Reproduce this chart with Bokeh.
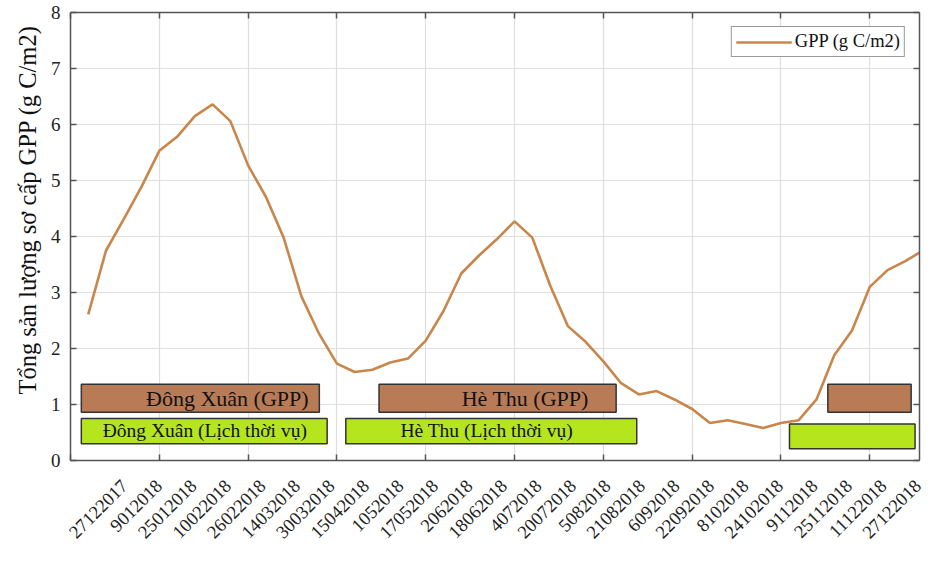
import math
from bokeh.plotting import figure
from bokeh.models import (Range1d, LinearAxis, FixedTicker, Legend, LegendItem,
                          ColumnDataSource, Grid, Title)
from bokeh.core.properties import value
from bokeh.embed import file_html
from bokeh.resources import INLINE

# ---------------- data ----------------
period = list(range(1, 49))
gpp = [2.61, 3.75, 4.31, 4.89, 5.53, 5.78, 6.15, 6.36, 6.06, 5.27,
       4.71, 3.98, 2.93, 2.26, 1.73, 1.58, 1.62, 1.75, 1.82, 2.14,
       2.67, 3.34, 3.66, 3.95, 4.27, 3.98, 3.13, 2.40, 2.12, 1.77,
       1.38, 1.18, 1.24, 1.09, 0.92, 0.67, 0.72, 0.65, 0.58, 0.67,
       0.72, 1.09, 1.88, 2.32, 3.10, 3.40, 3.56, 3.75]

date_labels = ["27122017", "9012018", "25012018", "10022018", "26022018",
               "14032018", "30032018", "15042018", "1052018", "17052018",
               "2062018", "18062018", "4072018", "20072018", "5082018",
               "21082018", "6092018", "22092018", "8102018", "24102018",
               "9112018", "25112018", "11122018", "27122018"]

y_ticks = [0, 1, 2, 3, 4, 5, 6, 7, 8]
x_grid_ticks = [0, 5, 10, 15, 20, 25, 30, 35, 40, 45]

# season boxes (GPP-derived and crop calendar)
gpp_seasons = ["Đông Xuân (GPP)", "Hè Thu (GPP)"]
gpp_left = [0.61, 17.37, 42.64]
gpp_right = [14.01, 30.72, 47.33]
cal_seasons = ["Đông Xuân (Lịch thời vụ)", "Hè Thu (Lịch thời vụ)"]
cal_left = [0.61, 15.50, 40.48]
cal_right = [14.45, 31.88, 47.55]

FONT = "Liberation Serif"
LINE_COLOR = "#C8864A"
BROWN = "#B97A56"
GREEN = "#B5E61D"
AX = "#555555"

# label positions along x (layout)
label_x = [round(3.03 + 1.942 * k, 3) for k in range(len(date_labels))]

p = figure(width=926, height=547, output_backend="svg", toolbar_location=None,
           x_range=Range1d(0, 47.8), y_range=Range1d(0, 8),
           x_axis_location=None, y_axis_location=None,
           min_border_left=70, min_border_right=7, min_border_top=12,
           min_border_bottom=83)
p.outline_line_color = None
p.background_fill_color = "white"

# grids
p.add_layout(Grid(dimension=0, ticker=FixedTicker(ticks=x_grid_ticks),
                  grid_line_color="#dedede", grid_line_width=1.2))
p.add_layout(Grid(dimension=1, ticker=FixedTicker(ticks=y_ticks),
                  grid_line_color="#dedede", grid_line_width=1.2))


def style_minor(ax):
    ax.minor_tick_in = 6
    ax.minor_tick_out = 0
    ax.minor_tick_line_color = AX
    ax.minor_tick_line_width = 1.5
    ax.major_tick_line_color = None
    ax.major_tick_in = 0
    ax.major_tick_out = 0
    ax.axis_line_color = AX
    ax.axis_line_width = 1.5


# bottom: date labels as major ticks, inward marks as minor ticks
bot = LinearAxis(ticker=FixedTicker(ticks=label_x, minor_ticks=x_grid_ticks))
style_minor(bot)
bot.major_label_overrides = {x: t for x, t in zip(label_x, date_labels)}
bot.major_label_orientation = math.pi / 4
bot.major_label_standoff = 22
bot.major_label_text_font = FONT
bot.major_label_text_font_size = "18.5px"
bot.major_label_text_color = "#222222"
p.add_layout(bot, "below")

# top and right: inward marks only
top = LinearAxis(ticker=FixedTicker(ticks=[], minor_ticks=x_grid_ticks))
style_minor(top)
p.add_layout(top, "above")
right = LinearAxis(ticker=FixedTicker(ticks=[], minor_ticks=y_ticks))
style_minor(right)
p.add_layout(right, "right")

# left axis
yax = LinearAxis(ticker=FixedTicker(ticks=y_ticks))
yax.major_tick_in = 6
yax.major_tick_out = 0
yax.minor_tick_line_color = None
yax.major_tick_line_color = AX
yax.major_tick_line_width = 1.5
yax.axis_line_color = AX
yax.axis_line_width = 1.5
yax.major_label_standoff = 10
yax.major_label_text_font = FONT
yax.major_label_text_font_size = "19px"
yax.major_label_text_color = "#222222"
p.add_layout(yax, "left")

ytitle = Title(text="Tổng sản lượng sơ cấp GPP (g C/m2)", align="left",
               offset=66, standoff=13, text_font=FONT, text_font_size="24.5px",
               text_font_style="normal", text_color="#111111")
p.add_layout(ytitle, "left")

# line
src = ColumnDataSource(dict(x=period, y=gpp))
ln = p.line("x", "y", source=src, line_color=LINE_COLOR, line_width=2.6)

# season boxes
p.quad(left=gpp_left, right=gpp_right, bottom=0.86, top=1.36,
       fill_color=BROWN, line_color="#333333", line_width=1.5)
p.quad(left=cal_left, right=cal_right, bottom=[0.30, 0.30, 0.21],
       top=[0.75, 0.75, 0.65],
       fill_color=GREEN, line_color="#333333", line_width=1.5)

p.text(x=[8.83, 25.6], y=[1.10, 1.10], text=gpp_seasons,
       text_font=value(FONT), text_font_size="22px", text_align="center",
       text_baseline="middle", text_color="#111111")
p.text(x=[7.56, 23.44], y=[0.53, 0.53], text=cal_seasons,
       text_font=value(FONT), text_font_size="19.5px", text_align="center",
       text_baseline="middle", text_color="#111111")

legend = Legend(items=[LegendItem(label="GPP (g C/m2)", renderers=[ln])],
                location="top_right")
legend.margin = 14
legend.padding = 4
legend.spacing = 0
legend.glyph_width = 56
legend.glyph_height = 20
legend.label_standoff = 3
legend.label_text_font = FONT
legend.label_text_font_size = "18.5px"
legend.label_text_color = "#111111"
legend.border_line_color = "#333333"
legend.border_line_width = 1.5
legend.background_fill_alpha = 1.0
p.add_layout(legend)

open("out.html", "w").write(file_html(p, INLINE))
